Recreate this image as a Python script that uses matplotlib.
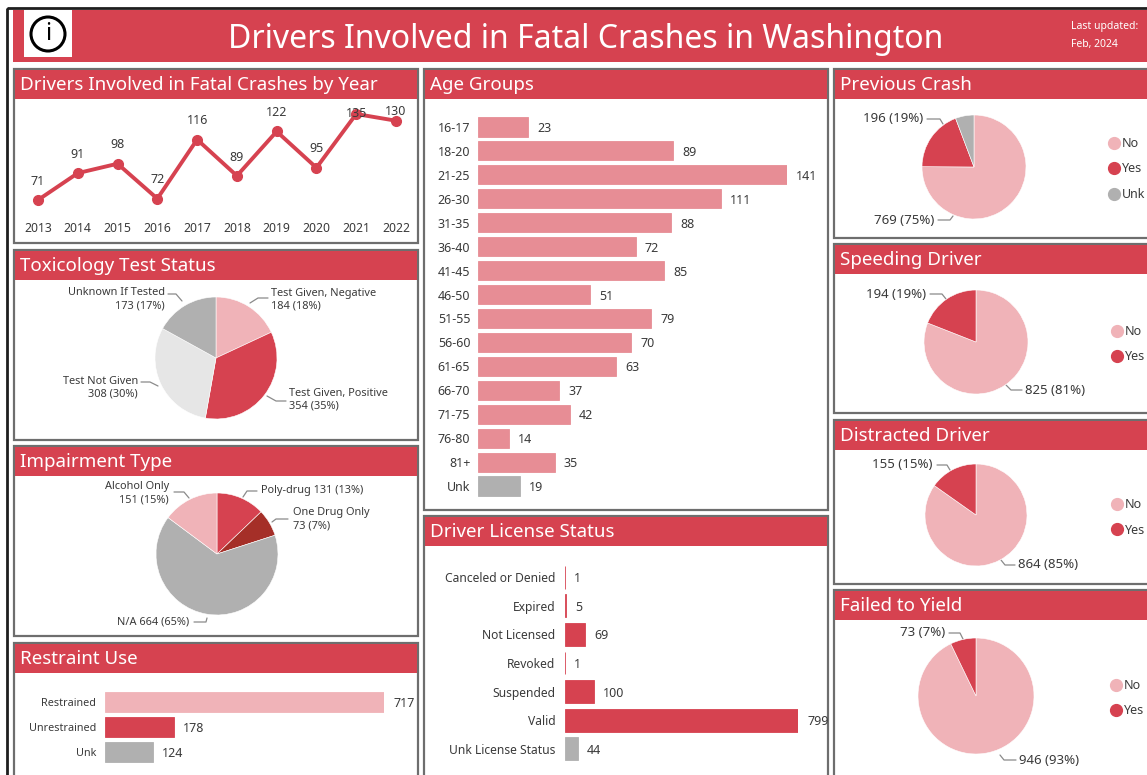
import matplotlib
matplotlib.use("Agg")
import matplotlib.pyplot as plt
from matplotlib.lines import Line2D
from matplotlib.patches import Circle, Rectangle

W, H = 1147, 775
RED = "#D64250"
PINK = "#F0B3B8"
MID_PINK = "#E78D95"
GRAY = "#B0B0B0"
LIGHT_GRAY = "#E6E6E6"
DARK_RED = "#A52F28"
TEXT = "#3A3A3A"

years = [2013, 2014, 2015, 2016, 2017, 2018, 2019, 2020, 2021, 2022]
year_counts = [71, 91, 98, 72, 116, 89, 122, 95, 135, 130]

tox_labels = ["Test Given, Negative", "Test Given, Positive", "Test Not Given", "Unknown If Tested"]
tox_counts = [184, 354, 308, 173]

impair_labels = ["Poly-drug", "One Drug Only", "N/A", "Alcohol Only"]
impair_counts = [131, 73, 664, 151]

restraint_labels = ["Restrained", "Unrestrained", "Unk"]
restraint_counts = [717, 178, 124]

age_labels = ["16-17", "18-20", "21-25", "26-30", "31-35", "36-40", "41-45", "46-50",
              "51-55", "56-60", "61-65", "66-70", "71-75", "76-80", "81+", "Unk"]
age_counts = [23, 89, 141, 111, 88, 72, 85, 51, 79, 70, 63, 37, 42, 14, 35, 19]

license_labels = ["Canceled or Denied", "Expired", "Not Licensed", "Revoked",
                  "Suspended", "Valid", "Unk License Status"]
license_counts = [1, 5, 69, 1, 100, 799, 44]

previous_counts = [769, 196, 59]
speeding_counts = [825, 194]
distracted_counts = [864, 155]
yield_counts = [946, 73]

plt.rcParams["font.family"] = ["Noto Sans", "DejaVu Sans"]
plt.rcParams["font.size"] = 9

fig = plt.figure(figsize=(W / 100, H / 100), dpi=100)


def px_axes(left, top, right, bottom):
    ax = fig.add_axes([left / W, 1 - bottom / H, (right - left) / W, (bottom - top) / H])
    ax.patch.set_alpha(0)
    return ax


# page layer in pixel coordinates, everything else sits on top of it
bg = fig.add_axes([0, 0, 1, 1])
bg.set_xlim(0, W)
bg.set_ylim(H, 0)
bg.axis("off")


def panel(title, left, top, right, bottom):
    bg.add_patch(Rectangle((left, top), right - left, bottom - top, fc="white", ec="#6E6E6E", lw=1.6))
    bg.add_patch(Rectangle((left + 1, top + 1), right - left - 2, 29, fc=RED, ec="none"))
    bg.text(left + 6, top + 16, title, color="white", fontsize=13.5, va="center", ha="left")


def note(x, y, text, ha="left", size=7.9):
    bg.text(x, y, text, color=TEXT, fontsize=size, ha=ha, va="center", linespacing=1.25)


def leader(xs, ys):
    bg.plot(xs, ys, color="#8A8A8A", lw=0.9, solid_capstyle="round")


def pie(cx, cy, r, counts, colors):
    ax = px_axes(cx - r, cy - r, cx + r, cy + r)
    ax.pie(counts, colors=colors, startangle=90, counterclock=False, radius=1,
           wedgeprops={"edgecolor": "white", "linewidth": 0.4})
    ax.set_xlim(-1, 1)
    ax.set_ylim(-1, 1)


def hbar(box, labels, counts, colors, label_pad, label_size):
    ax = px_axes(*box)
    rows = range(len(counts))
    ax.barh(rows, counts, height=0.8, color=colors, edgecolor=colors, linewidth=0.6)
    ax.set_xlim(0, max(counts))
    ax.set_ylim(len(counts) - 0.5, -0.5)
    ax.set_yticks(list(rows), labels)
    ax.set_xticks([])
    ax.tick_params(axis="y", length=0, pad=label_pad, labelcolor=TEXT, labelsize=label_size)
    for spine in ax.spines.values():
        spine.set_visible(False)
    for row, count in zip(rows, counts):
        ax.annotate(str(count), (count, row), xytext=(6.5, 0), textcoords="offset points",
                    va="center_baseline", color=TEXT, fontsize=9, annotation_clip=False)


def legend(x, y, labels, colors):
    handles = [Line2D([], [], ls="none", marker="o", ms=8.5, color=c) for c in colors]
    leg = bg.legend(handles, labels, loc="upper left", bbox_to_anchor=(x, y), bbox_transform=bg.transData,
                    frameon=False, fontsize=9, labelcolor=TEXT, handletextpad=0.05, labelspacing=1.0,
                    borderpad=0, borderaxespad=0, handlelength=1.2)
    # keep it as a plain artist so the next call does not replace it
    bg.legend_ = None
    bg.add_artist(leg)


# top banner
bg.add_patch(Rectangle((7, 8), W, H, fc="none", ec="#1E1E1E", lw=2))
bg.add_patch(Rectangle((13, 10), W - 13, 52, fc=RED, ec="none"))
bg.add_patch(Rectangle((24, 10), 48, 47, fc="white", ec="none"))
bg.add_patch(Circle((48, 34), 17, fc="white", ec="black", lw=2.2))
bg.text(48, 34, "i", color="black", fontsize=17, fontweight="bold", ha="center", va="center")
bg.text(586, 40, "Drivers Involved in Fatal Crashes in Washington", color="white", fontsize=23,
        ha="center", va="center")
bg.text(1071, 26, "Last updated:", color="white", fontsize=7.5, va="center")
bg.text(1071, 44, "Feb, 2024", color="white", fontsize=7.5, va="center")

panel("Drivers Involved in Fatal Crashes by Year", 14, 69, 418, 243)
panel("Toxicology Test Status", 14, 250, 418, 440)
panel("Impairment Type", 14, 446, 418, 636)
panel("Restraint Use", 14, 643, 418, 790)
panel("Age Groups", 424, 69, 828, 510)
panel("Driver License Status", 424, 516, 828, 790)
panel("Previous Crash", 834, 69, 1160, 238)
panel("Speeding Driver", 834, 244, 1160, 413)
panel("Distracted Driver", 834, 420, 1160, 584)
panel("Failed to Yield", 834, 590, 1160, 790)

# yearly line
line_ax = px_axes(38, 114, 396, 200)
line_ax.plot(years, year_counts, color=RED, lw=2.8, marker="o", ms=7, clip_on=False)
line_ax.set_xlim(years[0], years[-1])
line_ax.set_ylim(min(year_counts), max(year_counts))
line_ax.set_xticks(years, [str(y) for y in years])
line_ax.set_yticks([])
line_ax.tick_params(axis="x", length=0, pad=15.5, labelcolor=TEXT, labelsize=8.8)
for spine in line_ax.spines.values():
    spine.set_visible(False)
label_offsets = [13.5, 13.5, 13.5, 13.5, 13.5, 13.5, 13.5, 13.5, 0.5, 6.5]
for year, count, off in zip(years, year_counts, label_offsets):
    line_ax.annotate(str(count), (year, count), xytext=(0, off), textcoords="offset points",
                     ha="center", va="center", color=TEXT, fontsize=9, annotation_clip=False)

# toxicology
pie(216, 358, 61, tox_counts, [PINK, RED, LIGHT_GRAY, GRAY])
note(271, 300, f"{tox_labels[0]}\n{tox_counts[0]} (18%)")
leader([250, 258, 268], [303, 298, 298])
note(289, 400, f"{tox_labels[1]}\n{tox_counts[1]} (35%)")
leader([267, 276, 286], [396, 401, 401])
note(138, 388, f"{tox_labels[2]}\n{tox_counts[2]} (30%)", ha="right")
leader([141, 150, 158], [382, 382, 386])
note(165, 299, f"{tox_labels[3]}\n{tox_counts[3]} (17%)", ha="right")
leader([168, 176, 182], [294, 294, 301])

# impairment
pie(217, 554, 61, impair_counts, [RED, DARK_RED, GRAY, PINK])
note(261, 491, f"{impair_labels[0]} {impair_counts[0]} (13%)")
leader([243, 247, 257], [497, 491, 491])
note(293, 519, f"{impair_labels[1]}\n{impair_counts[1]} (7%)")
leader([272, 276, 288], [522, 519, 519])
note(169, 493, f"{impair_labels[3]}\n{impair_counts[3]} (15%)", ha="right")
leader([174, 184, 189], [492, 492, 498])
note(189, 622, f"{impair_labels[2]} {impair_counts[2]} (65%)", ha="right")
leader([194, 206, 207], [622, 622, 618])

# bars
hbar((105, 690, 384, 764), restraint_labels, restraint_counts, [PINK, RED, GRAY], 6.5, 7.8)
hbar((478, 115, 787, 498), age_labels, age_counts, [MID_PINK] * 15 + [GRAY], 5.5, 9)
hbar((565, 563, 798, 763), license_labels, license_counts, [RED] * 6 + [GRAY], 7, 8.7)

# right column
pie(974, 167, 52, previous_counts, [PINK, RED, GRAY])
note(923, 119, "196 (19%)", ha="right", size=9.5)
leader([927, 940, 943], [119, 119, 124])
note(934, 220, "769 (75%)", ha="right", size=9.5)
leader([938, 950, 953], [220, 220, 216])
legend(1106, 137, ["No", "Yes", "Unk"], [PINK, RED, GRAY])

pie(976, 342, 52, speeding_counts, [PINK, RED])
note(926, 294, "194 (19%)", ha="right", size=9.5)
leader([930, 942, 946], [294, 294, 299])
note(1025, 390, "825 (81%)", size=9.5)
leader([1006, 1011, 1022], [385, 390, 390])
legend(1109, 325, ["No", "Yes"], [PINK, RED])

pie(976, 515, 51, distracted_counts, [PINK, RED])
note(933, 465, "155 (15%)", ha="right", size=9.5)
leader([937, 947, 950], [465, 465, 470])
note(1018, 565, "864 (85%)", size=9.5)
leader([1001, 1005, 1015], [560, 565, 565])
legend(1109, 498, ["No", "Yes"], [PINK, RED])

pie(976, 696, 58, yield_counts, [PINK, RED])
note(945, 633, "73 (7%)", ha="right", size=9.5)
leader([949, 960, 963], [633, 633, 639])
note(1019, 760, "946 (93%)", size=9.5)
leader([1000, 1004, 1016], [755, 760, 760])
legend(1108, 679, ["No", "Yes"], [PINK, RED])

fig.savefig("out.png", dpi=100, facecolor="white")
